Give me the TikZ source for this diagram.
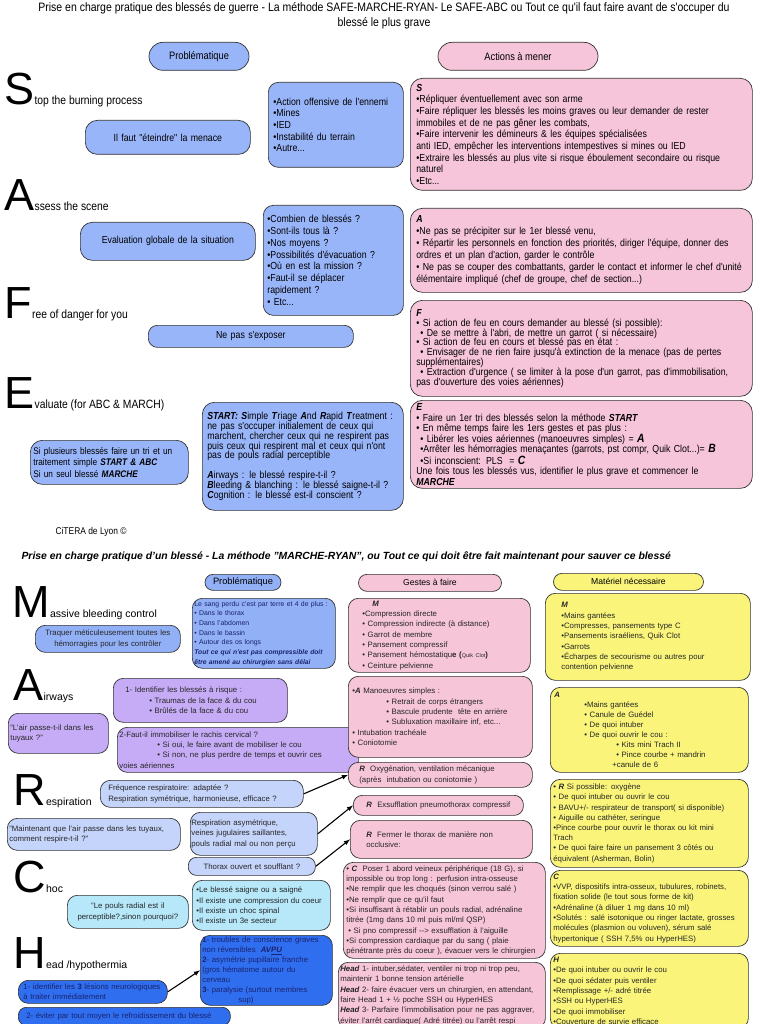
\documentclass[tikz,border=0pt]{standalone}
\usepackage{fontspec}
\setmainfont{Liberation Sans}
\newfontfamily\narrowfont[FakeStretch=0.86]{Liberation Sans}
\usepackage{xcolor}
\definecolor{TopBlue}{RGB}{153,181,250}
\definecolor{TopPink}{RGB}{246,197,217}
\definecolor{BotBlue}{RGB}{146,176,245}
\definecolor{LavPurple}{RGB}{198,172,246}
\definecolor{PaleBlue}{RGB}{197,212,250}
\definecolor{PaleCyan}{RGB}{182,232,250}
\definecolor{RoyalBlue}{RGB}{48,110,240}
\definecolor{BotPink}{RGB}{246,197,215}
\definecolor{PadYellow}{RGB}{250,245,122}
\definecolor{NavyText}{RGB}{25,35,110}
\usepackage{tikz}
\usetikzlibrary{shapes.misc}
\newcommand{\emphbi}[1]{\textbf{\textit{#1}}}

\begin{document}
\begin{tikzpicture}[x=1pt, y=-1pt,
    box/.style={draw=black!80, line width=0.7pt, rounded corners=10pt,
        anchor=north west, align=left, inner ysep=1pt},
    pill/.style={draw=black!80, line width=0.7pt, rounded rectangle,
        anchor=north west, inner sep=0pt, align=center},
    topfont/.style={font=\narrowfont\fontsize{10.2}{#1}\selectfont},
    topfont/.default=11.7,
    botfont/.style={font=\fontsize{7.8}{#1}\selectfont, text=black!85},
    botfont/.default=10.3,
    bigletter/.style={font=\fontsize{45}{45}\selectfont, inner sep=0pt, anchor=base west},
    toptail/.style={font=\narrowfont\fontsize{12}{12}\selectfont, inner sep=0pt, anchor=base west},
    bottail/.style={font=\fontsize{10.5}{12}\selectfont, inner sep=0pt, anchor=base west},
    conn/.style={-latex, line width=1.1pt}
]
    \fill[white] (0,0) rectangle (768,1024);
    \useasboundingbox (0,0) rectangle (768,1024);

    % Titre SAFE-ABC
    \node[font=\narrowfont\fontsize{12.2}{15}\selectfont, align=center] (titleSafe) at (384,16)
        {Prise en charge pratique des blessés de guerre - La méthode SAFE-MARCHE-RYAN- Le SAFE-ABC ou Tout ce qu'il faut faire avant de s'occuper du\\blessé le plus grave};

    % Colonnes
    \node[pill, fill=TopBlue, minimum width=100pt, minimum height=28pt,
        font=\narrowfont\fontsize{10.8}{12}\selectfont] (probTop) at (163,42) {Problématique};
    \node[pill, fill=TopPink, minimum width=160pt, minimum height=28pt,
        font=\narrowfont\fontsize{10.8}{12}\selectfont] (actTop) at (452,42) {Actions à mener};

    % S
    \node[bigletter] (letS) at (4,105) {S};
    \node[toptail] (tailS) at (letS.base east) {top the burning process};
    \node[box, topfont, fill=TopBlue, rounded corners=12pt, align=center, inner xsep=4pt,
        text width=157pt, minimum height=34pt] (menaceS) at (85,120) {Il faut "éteindre" la menace};
    \node[box, topfont, fill=TopBlue, inner xsep=5pt, text width=125pt, minimum height=85pt] (dangerS) at (268,82)
        {•Action offensive de l'ennemi\\•Mines\\•IED\\•Instabilité du terrain\\•Autre...};
    \node[box, topfont, fill=TopPink, rounded corners=12pt, inner xsep=6pt, text width=330pt, minimum height=112pt] (actS) at (410,78)
        {\emphbi{S}\\
        •Répliquer éventuellement avec son arme\\
        •Faire répliquer les blessés les moins graves ou leur demander de rester\\
        immobiles et de ne pas gêner les combats,\\
        •Faire intervenir les démineurs \& les équipes spécialisées\\
        anti IED, empêcher les interventions intempestives si mines ou IED\\
        •Extraire les blessés au plus vite si risque éboulement secondaire ou risque\\
        naturel\\
        •Etc...};

    % A
    \node[bigletter] (letA) at (4,211) {A};
    \node[toptail] (tailA) at (letA.base east) {ssess the scene};
    \node[box, topfont, fill=TopBlue, rounded corners=12pt, align=center, inner xsep=4pt,
        text width=167pt, minimum height=38pt] (evalA) at (80,222) {Evaluation globale de la situation};
    \node[box, topfont=11.8, fill=TopBlue, inner xsep=4pt, text width=132pt, minimum height=110pt] (questA) at (263,205)
        {•Combien de blessés ?\\•Sont-ils tous là ?\\•Nos moyens ?\\•Possibilités d'évacuation ?\\
        •Où en est la mission ?\\•Faut-il se déplacer\\rapidement ?\\• Etc...};
    \node[box, topfont=12, fill=TopPink, rounded corners=12pt, inner xsep=6pt, text width=330pt, minimum height=84pt] (actA) at (410,208)
        {\emphbi{A}\\
        •Ne pas se précipiter sur le 1er blessé venu,\\
        • Répartir les personnels en fonction des priorités, diriger l'équipe, donner des\\
        ordres et un plan d'action, garder le contrôle\\
        • Ne pas se couper des combattants, garder le contact et informer le chef d'unité\\
        élémentaire impliqué (chef de groupe, chef de section...)};

    % F
    \node[bigletter] (letF) at (4,318) {F};
    \node[toptail] (tailF) at (letF.base east) {ree of danger for you};
    \node[box, topfont, fill=TopBlue, rounded corners=9pt, align=center, inner xsep=4pt,
        text width=197pt, minimum height=22pt] (exposeF) at (148,325) {Ne pas s'exposer};
    \node[box, topfont=9.8, fill=TopPink, rounded corners=12pt, inner xsep=6pt, text width=330pt, minimum height=96pt] (actF) at (410,300)
        {\emphbi{F}\\
        • Si action de feu en cours demander au blessé (si possible):\\
        \hspace*{4pt}• De se mettre à l'abri, de mettre un garrot ( si nécessaire)\\
        • Si action de feu en cours et blessé pas en état :\\
        \hspace*{4pt}• Envisager de ne rien faire jusqu'à extinction de la menace (pas de pertes\\
        supplémentaires)\\
        \hspace*{4pt}• Extraction d'urgence ( se limiter à la pose d'un garrot, pas d'immobilisation,\\
        pas d'ouverture des voies aériennes)};

    % E
    \node[bigletter] (letE) at (4,408) {E};
    \node[toptail] (tailE) at (letE.base east) {valuate (for ABC \& MARCH)};
    \node[box, font=\narrowfont\fontsize{9.6}{11.5}\selectfont, fill=TopBlue, rounded corners=12pt, inner xsep=3pt,
        text width=152pt, minimum height=44pt] (triE) at (30,440)
        {Si plusieurs blessés faire un tri et un\\traitement simple \emphbi{START \& ABC}\\Si un seul blessé \emphbi{MARCHE}};
    \node[box, topfont=9.8, fill=TopBlue, rounded corners=12pt, inner xsep=5pt, text width=191pt, minimum height=108pt] (startE) at (202,402)
        {\emphbi{START:} \emphbi{S}imple \emphbi{T}riage \emphbi{A}nd \emphbi{R}apid \emphbi{T}reatment :\\
        ne pas s'occuper initialement de ceux qui\\
        marchent, chercher ceux qui ne respirent pas\\
        puis ceux qui respirent mal et ceux qui n'ont\\
        pas de pouls radial perceptible\\[9.8pt]
        \emphbi{A}irways : le blessé respire-t-il ?\\
        \emphbi{B}leeding \& blanching : le blessé saigne-t-il ?\\
        \emphbi{C}ognition : le blessé est-il conscient ?};
    \node[box, topfont=10.5, fill=TopPink, rounded corners=12pt, inner xsep=6pt, text width=330pt, minimum height=88pt] (actE) at (410,400)
        {\emphbi{E}\\
        • Faire un 1er tri des blessés selon la méthode \emphbi{START}\\
        • En même temps faire les 1ers gestes et pas plus :\\
        \hspace*{4pt}• Libérer les voies aériennes (manoeuvres simples) = \emphbi{\fontsize{12}{10}\selectfont A}\\
        \hspace*{4pt}•Arrêter les hémorragies menaçantes (garrots, pst compr, Quik Clot...)= \emphbi{\fontsize{12}{10}\selectfont B}\\
        \hspace*{4pt}•Si inconscient: PLS \ = \emphbi{\fontsize{12}{10}\selectfont C}\\
        Une fois tous les blessés vus, identifier le plus grave et commencer le\\
        \emphbi{MARCHE}};

    \node[font=\narrowfont\fontsize{9.8}{11}\selectfont, anchor=west] (citera) at (52,532) {CiTERA de Lyon ©};

    % Titre MARCHE-RYAN
    \node[font=\bfseries\itshape\fontsize{10.4}{12}\selectfont, anchor=west] (titleMarche) at (18,557)
        {Prise en charge pratique d'un blessé - La méthode "MARCHE-RYAN", ou Tout ce qui doit être fait maintenant pour sauver ce blessé};

    % Colonnes
    \node[pill, fill=BotBlue, minimum width=76pt, minimum height=16pt, font=\fontsize{9.3}{11}\selectfont] (probBot) at (213,574) {Problématique};
    \node[pill, fill=BotPink, minimum width=143pt, minimum height=17pt, font=\fontsize{8.6}{10}\selectfont] (gestBot) at (367,574) {Gestes à faire};
    \node[pill, fill=PadYellow, minimum width=150pt, minimum height=17pt, font=\fontsize{8.6}{10}\selectfont] (matBot) at (562,573) {Matériel nécessaire};

    % M
    \node[bigletter] (letM) at (12,617) {M};
    \node[bottail] (tailM) at (letM.base east) {assive bleeding control};
    \node[box, botfont, fill=BotBlue, align=center, inner xsep=4pt, text width=137pt, minimum height=27pt] (traquerM) at (35,625)
        {Traquer méticuleusement toutes les\\hémorragies pour les contrôler};
    \node[box, font=\fontsize{6.9}{9.7}\selectfont, text=NavyText, fill=BotBlue, inner xsep=2pt, text width=139pt, minimum height=70pt] (sangM) at (192,598)
        {Le sang perdu c'est par terre et 4 de plus :\\
        • Dans le thorax\\• Dans l'abdomen\\• Dans le bassin\\• Autour des os longs\\
        {\fontsize{6.7}{9.7}\selectfont\emphbi{Tout ce qui n'est pas compressible doit}}\\
        {\fontsize{6.7}{9.7}\selectfont\emphbi{être amené au chirurgien sans délai}}};
    \node[box, botfont, fill=BotPink, inner xsep=14pt, text width=154pt, minimum height=74pt] (gestesM) at (348,598)
        {\hspace*{10pt}\emphbi{M}\\
        •Compression directe\\
        • Compression indirecte (à distance)\\
        • Garrot de membre\\
        • Pansement compressif\\
        • Pansement hémostatiqu\textbf{e} \textbf{(}{\fontsize{5.5}{6}\selectfont Quik Clot}\textbf{)}\\
        • Ceinture pelvienne};
    \node[box, botfont, fill=PadYellow, inner xsep=16pt, text width=173pt, minimum height=87pt] (matM) at (545,593)
        {\emphbi{M}\\•Mains gantées\\•Compresses, pansements type C\\•Pansements israéliens, Quik Clot\\
        •Garrots\\•Écharpes de secourisme ou autres pour\\contention pelvienne};

    % A
    \node[bigletter] (letAw) at (13,700) {A};
    \node[bottail] (tailAw) at (letAw.base east) {irways};
    \node[box, botfont, fill=LavPurple, inner xsep=12pt, text width=150pt, minimum height=44pt] (identA) at (113,678)
        {1- Identifier les blessés à risque :\\
        \hspace*{24pt}• Traumas de la face \& du cou\\
        \hspace*{24pt}• Brûlés de la face \& du cou};
    \node[box, botfont, fill=LavPurple, inner xsep=2pt, text width=96pt, minimum height=40pt] (airA) at (8,713)
        {"L'air passe-t-il dans les\\tuyaux ?"};
    \node[box, botfont, fill=LavPurple, inner xsep=2pt, text width=237pt, minimum height=45pt] (rachisA) at (117,727)
        {2-Faut-il immobiliser le rachis cervical ?\\
        \hspace*{38pt}• Si oui, le faire avant de mobiliser le cou\\
        \hspace*{38pt}• Si non, ne plus perdre de temps et ouvrir ces\\
        voies aériennes};
    \node[box, botfont, fill=BotPink, inner xsep=4pt, text width=176pt, minimum height=81pt] (gestesA) at (348,676)
        {•\emphbi{A} Manoeuvres simples :\\
        \hspace*{34pt}• Retrait de corps étrangers\\
        \hspace*{34pt}• Bascule prudente \ tête en arrière\\
        \hspace*{34pt}• Subluxation maxillaire inf, etc...\\
        • Intubation trachéale\\
        • Coniotomie};
    \node[box, botfont=10, fill=PadYellow, inner xsep=4pt, text width=190pt, minimum height=85pt] (matA) at (550,687)
        {\emphbi{A}\\
        \hspace*{30pt}•Mains gantées\\
        \hspace*{30pt}• Canule de Guédel\\
        \hspace*{30pt}• De quoi intuber\\
        \hspace*{30pt}• De quoi ouvrir le cou :\\
        \hspace*{62pt}• Kits mini Trach II\\
        \hspace*{62pt}• Pince courbe + mandrin\\
        \hspace*{58pt}+canule de 6};

    % R
    \node[bigletter] (letR) at (13,805) {R};
    \node[bottail] (tailR) at (letR.base east) {espiration};
    \node[box, botfont, fill=PaleBlue, inner xsep=8pt, text width=187pt, minimum height=27pt] (freqR) at (100,780)
        {Fréquence respiratoire: adaptée ?\\Respiration symétrique, harmonieuse, efficace ?};
    \node[box, botfont, fill=PaleBlue, inner xsep=2pt, text width=169pt, minimum height=32pt] (tuyauxR) at (7,818)
        {"Maintenant que l'air passe dans les tuyaux,\\comment respire-t-il ?"};
    \node[box, botfont, fill=PaleBlue, inner xsep=1pt, text width=125pt, minimum height=43pt] (asymR) at (190,812)
        {Respiration asymétrique,\\veines jugulaires saillantes,\\pouls radial mal ou non perçu};
    \node[box, botfont, fill=PaleBlue, rounded corners=8pt, align=center, inner xsep=4pt, text width=119pt, minimum height=18pt] (thoraxR) at (188,857)
        {Thorax ouvert et soufflant ?};
    \node[box, botfont, fill=BotPink, inner xsep=11pt, text width=162pt, minimum height=25pt] (oxyR) at (348,762)
        {\emphbi{R} \ Oxygénation, ventilation mécanique\\(après \ intubation ou coniotomie )};
    \node[box, botfont, fill=BotPink, rounded corners=9pt, align=center, inner xsep=4pt, text width=162pt, minimum height=20pt] (exsuR) at (353,795)
        {\emphbi{R} \ Exsufflation pneumothorax compressif};
    \node[box, botfont, fill=BotPink, inner xsep=16pt, text width=150pt, minimum height=38pt] (fermerR) at (350,820)
        {\emphbi{R} \ Fermer le thorax de manière non\\occlusive:};
    \node[box, botfont=10.2, fill=PadYellow, inner xsep=3pt, text width=192pt, minimum height=88pt] (matR) at (550,779)
        {• \emphbi{R} Si possible: oxygène\\
        • De quoi intuber ou ouvrir le cou\\
        • BAVU+/- respirateur de transport( si disponible)\\
        • Aiguille ou cathéter, seringue\\
        •Pince courbe pour ouvrir le thorax ou kit mini\\
        Trach\\
        • De quoi faire faire un pansement 3 côtés ou\\
        équivalent (Asherman, Bolin)};
    \draw[conn] (freqR.east) -- (oxyR.west);
    \draw[conn] (asymR.east) -- (exsuR.west);
    \draw[conn] (thoraxR.east) -- (fermerR.west);

    % C
    \node[bigletter] (letC) at (13,892) {C};
    \node[bottail] (tailC) at (letC.base east) {hoc};
    \node[box, botfont, fill=PaleCyan, align=center, inner xsep=4pt, text width=113pt, minimum height=33pt] (poulsC) at (67,895)
        {"Le pouls radial est il\\perceptible?,sinon pourquoi?};
    \node[box, botfont, fill=PaleCyan, inner xsep=4pt, text width=130pt, minimum height=50pt] (saigneC) at (192,880)
        {•Le blessé saigne ou a saigné\\•Il existe une compression du coeur\\•Il existe un choc spinal\\•Il existe un 3e secteur};
    \node[box, botfont, fill=BotPink, inner xsep=3pt, text width=196pt, minimum height=96pt] (gestesC) at (343,862)
        {• \emphbi{C} \ Poser 1 abord veineux périphérique (18 G), si\\
        impossible ou trop long : perfusion intra-osseuse\\
        •Ne remplir que les choqués (sinon verrou salé )\\
        •Ne remplir que ce qu'il faut\\
        •Si insuffisant à rétablir un pouls radial, adrénaline\\
        titrée (1mg dans 10 ml puis ml/ml QSP)\\
        \hspace*{2pt}• Si pno compressif -\kern0pt-\kern0pt> exsufflation à l'aiguille\\
        •Si compression cardiaque par du sang ( plaie\\
        pénétrante près du coeur ), évacuer vers le chirurgien};
    \node[box, botfont, fill=PadYellow, inner xsep=3pt, text width=192pt, minimum height=76pt] (matC) at (550,870)
        {\emphbi{C}\\
        •VVP, dispositifs intra-osseux, tubulures, robinets,\\
        fixation solide (le tout sous forme de kit)\\
        •Adrénaline (à diluer 1 mg dans 10 ml)\\
        •Solutés : salé isotonique ou ringer lactate, grosses\\
        molécules (plasmion ou voluven), sérum salé\\
        hypertonique ( SSH 7,5\% ou HyperHES)};

    % H
    \node[bigletter] (letH) at (13,968) {H};
    \node[bottail] (tailH) at (letH.base east) {ead /hypothermia};
    \node[box, botfont=10, text=NavyText, fill=RoyalBlue, inner xsep=2pt, text width=128pt, minimum height=70pt] (troublesH) at (200,935)
        {\textbf{1}- troubles de conscience graves\\
        non réversibles \ \emphbi{AV\underline{PU}}\\
        \textbf{2}- asymétrie pupillaire franche\\
        (gros hématome autour du\\
        cerveau\\
        \textbf{3}- paralysie (surtout membres\\
        \hspace*{36pt}sup)};
    \node[box, botfont, text=NavyText, fill=RoyalBlue, inner xsep=5pt, text width=139pt, minimum height=23pt] (identH) at (18,980)
        {1- identifier les \textbf{3} lésions neurologiques\\à traiter immédiatement};
    \node[box, botfont, text=NavyText, fill=RoyalBlue, rounded corners=8pt, inner xsep=8pt, text width=196pt, minimum height=18pt] (froidH) at (18,1007)
        {2- éviter par tout moyen le refroidissement du blessé};
    \node[box, botfont, fill=BotPink, inner xsep=2pt, text width=203pt, minimum height=66pt] (gestesH) at (338,962)
        {\emphbi{Head} 1- intuber,sédater, ventiler ni trop ni trop peu,\\
        maintenir 1 bonne tension artérielle\\
        \emphbi{Head} 2- faire évacuer vers un chirurgien, en attendant,\\
        faire Head 1 + ½ poche SSH ou HyperHES\\
        \emphbi{Head} 3- Parfaire l'immobilisation pour ne pas aggraver,\\
        éviter l'arrêt cardiaque( Adré titrée) ou l'arrêt respi};
    \node[box, botfont, fill=PadYellow, inner xsep=3pt, text width=192pt, minimum height=75pt] (matH) at (550,953)
        {\emphbi{H}\\•De quoi intuber ou ouvrir le cou\\•De quoi sédater puis ventiler\\
        •Remplissage +/- adré titrée\\•SSH ou HyperHES\\•De quoi immobiliser\\•Couverture de survie efficace};
    \draw[conn] (identH.east) -- (troublesH.west);
\end{tikzpicture}
\end{document}
